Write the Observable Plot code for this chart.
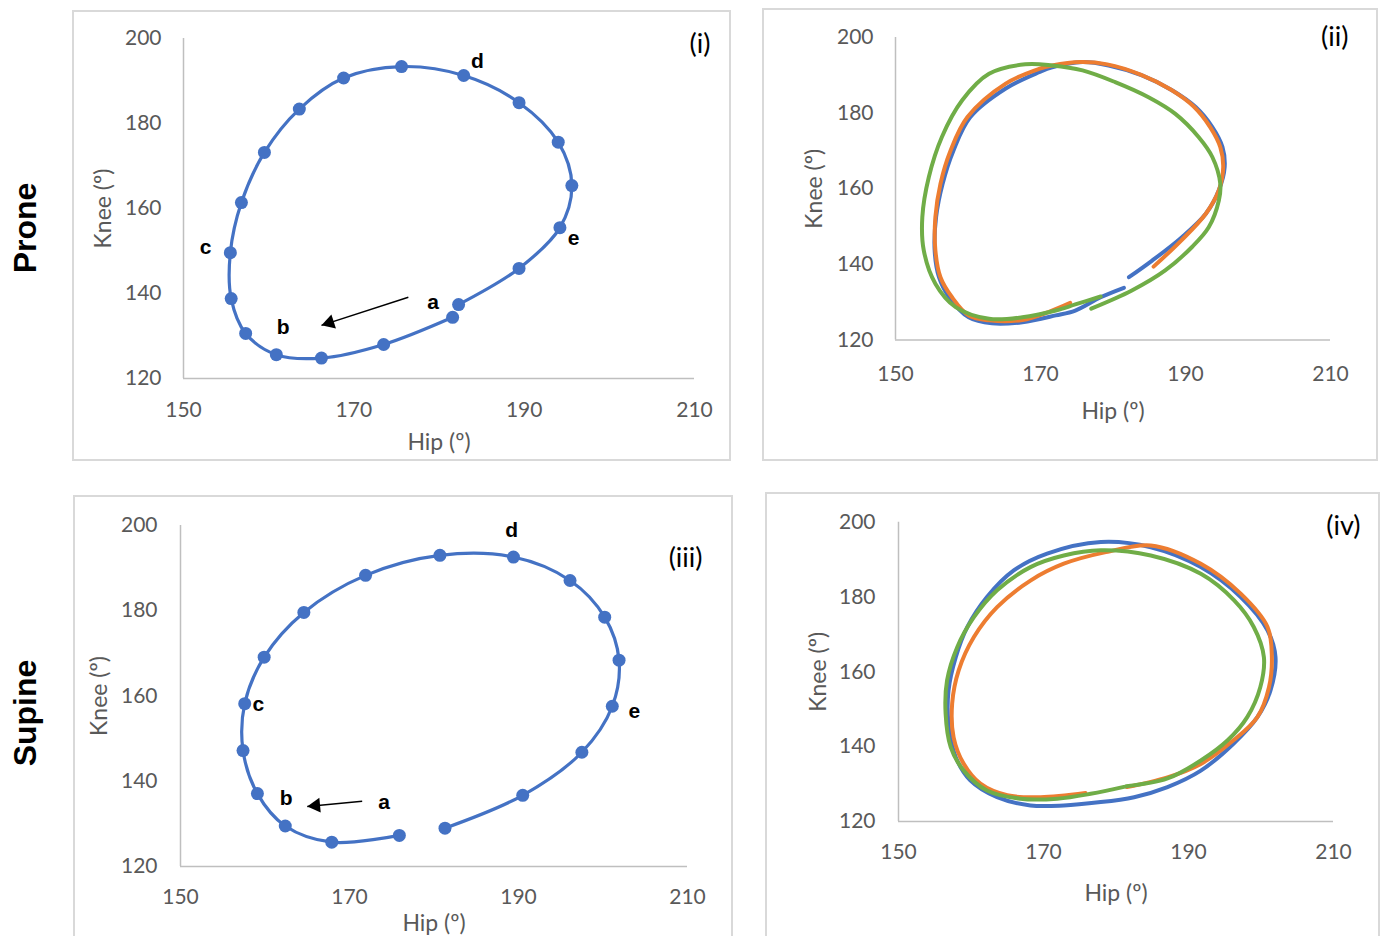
<!DOCTYPE html>
<html><head><meta charset="utf-8">
<script src="https://cdn.jsdelivr.net/npm/d3@7"></script>
<script src="https://cdn.jsdelivr.net/npm/@observablehq/plot@0.6"></script>
<style>
html,body{margin:0;padding:0;background:#fff;}
#root{position:relative;width:1380px;height:936px;overflow:hidden;background:#fff;}
.frame{position:absolute;border:2px solid #d9d9d9;box-sizing:border-box;}
.pane{position:absolute;}
.side{position:absolute;font-family:"Liberation Sans",Arial,sans-serif;font-weight:bold;font-size:32px;color:#000;transform:translate(-50%,-50%) rotate(-90deg);white-space:nowrap;line-height:1;}
</style></head><body><div id="root"></div>
<script>
// ---- axis ticks ----
const hipTicks = [150, 170, 190, 210];
const kneeTicks = [120, 140, 160, 180, 200];

// ---- (i) prone, single cycle with markers ----
const p1Hip  = [181.6,173.5,166.2,160.9,157.3,155.6,155.5,156.8,159.5,163.6,168.8,175.6,182.9,189.4,194.0,195.6,194.2,189.4,182.3];
const p1Knee = [134.4,128.0,124.8,125.6,130.6,138.8,149.6,161.4,173.2,183.4,190.7,193.4,191.3,184.9,175.6,165.4,155.5,145.9,137.4];
const p1Notes = ["a","b","c","d","e"];
const p1NoteHip  = [179.3,161.7,152.6,184.5,195.8];
const p1NoteKnee = [137.9,132.0,150.8,194.6,152.9];
const p1Arrow = {x1:176.4, y1:139.1, x2:166.2, y2:132.5};

// ---- (ii) prone, three cycles ----
const p2BlueHip  = [182.2,185.4,189.5,192.8,194.6,195.4,195.1,193.7,191.4,188.2,184.0,179.4,175.8,171.6,169.8,165.2,160.3,158.0,156.5,155.6,155.4,156.0,157.4,160.1,163.3,167.5,172.1,174.8,178.3,181.5];
const p2BlueKnee = [136.6,141.0,147.2,153.4,159.6,165.7,171.0,176.3,181.6,186.0,190.0,192.6,193.5,192.1,190.8,186.5,178.9,170.1,161.3,152.5,143.7,136.6,131.3,126.0,124.4,124.7,126.5,127.8,131.3,133.8];
const p2OrangeHip  = [185.6,189.4,192.8,194.6,195.2,194.8,193.4,191.1,187.9,183.8,179.2,175.5,171.6,169.8,165.2,159.9,157.6,156.2,155.5,155.5,156.2,157.8,160.1,162.9,167.5,171.1,174.1];
const p2OrangeKnee = [139.4,146.3,153.4,159.6,165.7,171.0,176.3,181.8,186.3,190.2,192.9,193.5,192.6,191.7,187.8,178.9,170.1,161.3,152.5,143.7,136.6,131.3,126.5,125.2,125.3,127.4,129.8];
const p2GreenHip  = [177.0,182.6,187.2,190.9,193.2,194.6,194.8,193.7,191.8,188.6,184.9,180.3,175.8,171.6,167.9,162.9,159.2,156.4,154.6,153.7,153.9,155.5,158.3,162.9,167.5,172.1,174.8,178.3];
const p2GreenKnee = [128.3,133.1,138.4,144.6,149.8,156.9,161.3,168.4,173.7,179.8,184.2,188.2,191.3,192.6,192.9,190.4,183.4,173.7,163.1,152.5,143.7,134.9,128.7,125.6,126.0,127.8,129.4,131.5];

// ---- (iii) supine, single cycle with markers ----
const p3Hip  = [175.9,167.9,162.4,159.1,157.4,157.6,159.9,164.6,171.9,180.7,189.4,196.1,200.2,201.9,201.1,197.5,190.5,181.3];
const p3Knee = [127.3,125.7,129.5,137.1,147.2,158.2,169.1,179.6,188.3,193.0,192.6,187.1,178.5,168.4,157.6,146.8,136.7,129.0];
const p3Notes = ["a","b","c","d","e"];
const p3NoteHip  = [174.1,162.5,159.2,189.2,203.7];
const p3NoteKnee = [135.0,136.0,158.0,198.9,156.4];
const p3Arrow = {x1:171.5, y1:135.3, x2:165.0, y2:134.1};

// ---- (iv) supine, three cycles ----
const p4BlueHip  = [177.9,172.8,168.2,163.6,159.9,157.9,156.9,156.9,157.9,159.5,162.2,165.9,170.5,177.9,184.8,191.7,197.2,200.9,202.0,201.3,199.5,196.2,191.7,187.1,182.5,177.9];
const p4BlueKnee = [125.2,124.3,124.3,126.5,131.0,137.2,146.1,155.0,163.9,172.0,180.0,187.1,191.6,194.7,193.3,188.0,180.0,171.1,163.9,155.0,147.9,140.8,133.6,129.2,126.5,125.2];
const p4OrangeHip  = [181.5,187.1,191.7,196.2,199.5,201.1,201.5,200.9,197.2,191.7,184.8,178.6,172.8,168.2,163.6,160.4,158.3,157.4,157.6,159.0,161.3,165.0,169.6,175.8];
const p4OrangeKnee = [129.2,131.8,135.4,141.7,147.9,155.9,163.9,172.0,180.9,188.9,193.8,192.0,188.9,184.4,177.3,169.3,160.4,151.5,142.5,135.4,130.1,127.0,126.5,127.6];
const p4GreenHip  = [181.4,187.1,191.7,195.4,198.1,199.9,200.4,199.0,196.3,191.7,184.8,177.9,172.8,168.2,163.6,160.4,158.1,156.7,156.5,157.2,159.0,162.2,166.8,171.9,176.5,181.4];
const p4GreenKnee = [129.4,131.5,136.3,141.7,147.9,155.9,163.9,172.0,179.1,186.2,191.1,192.5,191.1,188.0,181.8,174.6,166.6,157.7,148.8,139.9,133.6,128.3,126.1,126.1,127.4,129.4];

const BLUE = "#4472C4", ORANGE = "#ED7D31", GREEN = "#70AD47";

function rows(hip, knee) { return hip.map((h, i) => ({hip: h, knee: knee[i]})); }

const root = document.getElementById("root");

function panel(cfg) {
  const {left, top, width, height, ml, mr, mt, mb, lines, lineWidth, dots, notes, arrow, tag, tagDx, tagDy, xPad, yPad, hipDy, kneeDx, frameH} = cfg;
  const fr = document.createElement("div");
  fr.className = "frame";
  Object.assign(fr.style, {left: left + "px", top: top + "px", width: width + "px", height: (frameH || height) + "px"});
  root.appendChild(fr);

  const marks = [
    Plot.ruleX([150], {y1: 120, y2: 200, stroke: "#bfbfbf", strokeWidth: 1.5}),
    Plot.ruleY([120], {x1: 150, x2: 210, stroke: "#bfbfbf", strokeWidth: 1.5}),
    Plot.axisX(hipTicks, {anchor: "bottom", tickSize: 0, tickPadding: xPad, label: null, fontSize: 21}),
    Plot.axisY(kneeTicks, {anchor: "left", tickSize: 0, tickPadding: yPad, label: null, fontSize: 21}),
    Plot.text(["Hip (º)"], {frameAnchor: "bottom", dy: hipDy, text: d => d, textAnchor: "middle", lineAnchor: "middle", fontSize: 23, fill: "#595959"}),
    Plot.text(["Knee (º)"], {frameAnchor: "left", dx: kneeDx, rotate: -90, text: d => d, textAnchor: "middle", lineAnchor: "middle", fontSize: 23, fill: "#595959"}),
    Plot.text([tag], {frameAnchor: "top-right", dx: tagDx, dy: tagDy, text: d => d, textAnchor: "end", lineAnchor: "middle", fontSize: 27, fill: "#000"})
  ];
  for (const L of lines) {
    marks.push(Plot.line(L.data, {x: "hip", y: "knee", stroke: L.color, strokeWidth: lineWidth, curve: "catmull-rom"}));
  }
  if (dots) marks.push(Plot.dot(dots, {x: "hip", y: "knee", r: 6.5, fill: BLUE}));
  if (notes) {
    marks.push(Plot.text(notes.labels, {x: (d, i) => notes.hip[i], y: (d, i) => notes.knee[i], text: d => d,
      fontSize: 21, fontWeight: "bold", fontFamily: "Liberation Sans, Arial, sans-serif", fill: "#000"}));
  }
  if (arrow) {
    const kx = (width - ml - mr) / 60, ky = (height - mt - mb) / 80;
    const sx = (arrow.x2 - arrow.x1) * kx, sy = -(arrow.y2 - arrow.y1) * ky;
    const len = Math.hypot(sx, sy), ux = sx / len, uy = sy / len;
    const r = 5.5;
    const h = Math.sqrt(Math.PI * r * r / (3 * Math.sqrt(3)));
    marks.push(Plot.link([arrow], {x1: "x1", y1: "y1", x2: "x2", y2: "y2", stroke: "#000", strokeWidth: 1.5}));
    marks.push(Plot.dot([arrow], {x: "x2", y: "y2", r, symbol: "triangle", fill: "#000", stroke: "none",
      rotate: Math.atan2(uy, ux) * 180 / Math.PI + 90, dx: -ux * 2 * h, dy: -uy * 2 * h}));
  }
  const svg = Plot.plot({
    width, height,
    marginLeft: ml, marginRight: mr, marginTop: mt, marginBottom: mb,
    x: {domain: [150, 210]},
    y: {domain: [120, 200]},
    style: {fontFamily: "Lato, 'Open Sans', sans-serif", color: "#595959", background: "transparent", overflow: "visible"},
    marks
  });
  svg.classList.add("pane");
  svg.style.left = left + "px";
  svg.style.top = top + "px";
  svg.style.position = "absolute";
  root.appendChild(svg);
}

panel({left: 72, top: 10, width: 659, height: 451, ml: 111, mr: 37, mt: 28, mb: 83,
  lines: [{data: rows(p1Hip, p1Knee), color: BLUE}], lineWidth: 3.2, dots: rows(p1Hip, p1Knee),
  notes: {labels: p1Notes, hip: p1NoteHip, knee: p1NoteKnee}, arrow: p1Arrow,
  tag: "(i)", tagDx: 16, tagDy: 6, xPad: 24, yPad: 22, hipDy: 64, kneeDx: -80});

panel({left: 762, top: 8, width: 616, height: 453, ml: 133, mr: 48, mt: 29, mb: 121.5,
  lines: [{data: rows(p2BlueHip, p2BlueKnee), color: BLUE}, {data: rows(p2OrangeHip, p2OrangeKnee), color: ORANGE}, {data: rows(p2GreenHip, p2GreenKnee), color: GREEN}],
  lineWidth: 4,
  tag: "(ii)", tagDx: 18, tagDy: 0, xPad: 26, yPad: 22, hipDy: 72, kneeDx: -81});

panel({left: 73, top: 495, width: 660, height: 441, ml: 107, mr: 46, mt: 30, mb: 70, frameH: 470,
  lines: [{data: rows(p3Hip, p3Knee), color: BLUE}], lineWidth: 3.2, dots: rows(p3Hip, p3Knee),
  notes: {labels: p3Notes, hip: p3NoteHip, knee: p3NoteKnee}, arrow: p3Arrow,
  tag: "(iii)", tagDx: 15, tagDy: 33, xPad: 23, yPad: 23, hipDy: 57, kneeDx: -81});

panel({left: 765, top: 492, width: 615, height: 444, ml: 133, mr: 47, mt: 29.7, mb: 115, frameH: 470,
  lines: [{data: rows(p4BlueHip, p4BlueKnee), color: BLUE}, {data: rows(p4OrangeHip, p4OrangeKnee), color: ORANGE}, {data: rows(p4GreenHip, p4GreenKnee), color: GREEN}],
  lineWidth: 4,
  tag: "(iv)", tagDx: 27, tagDy: 4, xPad: 23, yPad: 23, hipDy: 72, kneeDx: -80});

for (const [label, cx, cy] of [["Prone", 25, 228], ["Supine", 25, 713]]) {
  const s = document.createElement("div");
  s.className = "side";
  s.textContent = label;
  s.style.left = cx + "px";
  s.style.top = cy + "px";
  root.appendChild(s);
}
</script></body></html>
